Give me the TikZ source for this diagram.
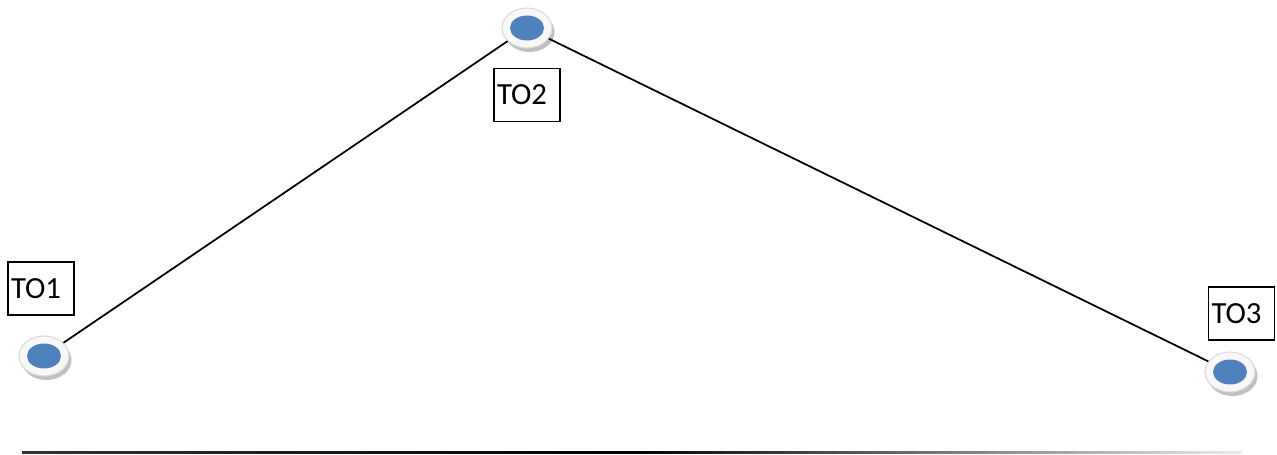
\documentclass[tikz,border=0pt]{standalone}
\usepackage{fontspec}
\setmainfont{Carlito}
\usepackage{tikz}
\usetikzlibrary{shapes,shadows}
\usepackage{xcolor}
\definecolor{dotblue}{HTML}{4F81BD}
\tikzset{
  station/.style={ellipse, draw=gray!30, fill=gray!6, line width=0.6pt,
    minimum width=1cm, minimum height=0.8cm, inner sep=0pt,
    drop shadow={shadow xshift=0.05cm, shadow yshift=-0.08cm, fill=gray!55, opacity=0.9},
    path picture={\fill[dotblue] (path picture bounding box.center) ellipse (0.34cm and 0.25cm);}},
  label box/.style={draw, line width=0.85pt, rectangle, minimum height=1.06cm,
    text width=1.2cm, inner xsep=0.06cm, align=left, font=\fontsize{17.5}{20}\selectfont},
  link/.style={line width=1pt}
}
\begin{document}
\begin{tikzpicture}[x=0.02cm, y=-0.02cm]
\useasboundingbox (0,0) rectangle (1277,455);
\node [station] (to1) at (44,356) {};
\node [station] (to2) at (527,28) {};
\node [station] (to3) at (1230,372) {};
\node [label box] (box1) at (41,288.5) {TO1};
\node [label box] (box2) at (527,95) {TO2};
\node [label box] (box3) at (1241.5,313.5) {TO3};
\draw [link] (to1) -- (to2);
\draw [link] (to2) -- (to3);
\coordinate (base left) at (22,452.5);
\coordinate (base right) at (1242,452.5);
\shade [left color=black!80, right color=gray!15, middle color=black]
  ([yshift=0.022cm]base left) rectangle ([yshift=-0.022cm]base right);
\end{tikzpicture}
\end{document}
